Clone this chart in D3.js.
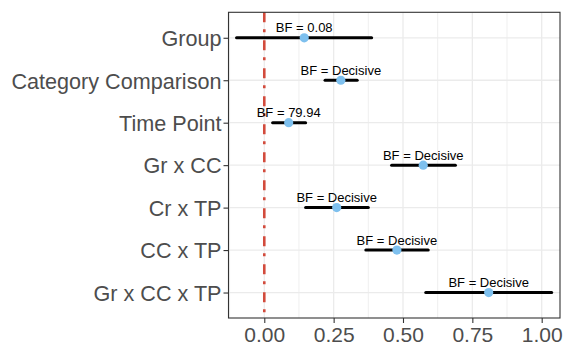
<!DOCTYPE html>
<html><head>
<meta charset="UTF-8">
<script src="https://cdn.jsdelivr.net/npm/d3@7"></script>
<style>
  body { margin: 0; background: #fff; }
  text { font-family: "Liberation Sans", Arial, Helvetica, sans-serif; }
</style>
</head>
<body>
<svg id="chart" width="564" height="345"></svg>
<script>
// effects, top to bottom
const terms = ["Group", "Category Comparison", "Time Point", "Gr x CC", "Cr x TP", "CC x TP", "Gr x CC x TP"];
const estimate = [0.144, 0.276, 0.088, 0.573, 0.261, 0.478, 0.809];
const lower = [-0.100, 0.219, 0.030, 0.459, 0.149, 0.366, 0.582];
const upper = [0.387, 0.335, 0.149, 0.689, 0.375, 0.591, 1.036];
const bfLabels = ["BF = 0.08", "BF = Decisive", "BF = 79.94", "BF = Decisive", "BF = Decisive", "BF = Decisive", "BF = Decisive"];
const xTicks = [0, 0.25, 0.5, 0.75, 1];
const xMinor = [-0.125, 0.125, 0.375, 0.625, 0.875];

const panel = {left: 228.5, right: 560, top: 12.3, bottom: 318};
const svg = d3.select("#chart");

const x = d3.scaleLinear().domain([-0.129, 1.066]).range([panel.left, panel.right]);
const y = d3.scalePoint().domain(terms).range([panel.top, panel.bottom]).padding(0.6);

const grid = svg.append("g");
grid.selectAll("line.minor").data(xMinor).enter().append("line")
  .attr("x1", d => x(d)).attr("x2", d => x(d))
  .attr("y1", panel.top).attr("y2", panel.bottom)
  .attr("stroke", "#ebebeb").attr("stroke-width", 0.8);
grid.selectAll("line.majx").data(xTicks).enter().append("line")
  .attr("x1", d => x(d)).attr("x2", d => x(d))
  .attr("y1", panel.top).attr("y2", panel.bottom)
  .attr("stroke", "#ebebeb").attr("stroke-width", 1.3);
grid.selectAll("line.majy").data(terms).enter().append("line")
  .attr("x1", panel.left).attr("x2", panel.right)
  .attr("y1", d => y(d)).attr("y2", d => y(d))
  .attr("stroke", "#ebebeb").attr("stroke-width", 1.3);

// reference line at zero
svg.append("line")
  .attr("x1", x(0)).attr("x2", x(0))
  .attr("y1", panel.top).attr("y2", panel.bottom)
  .attr("stroke", "#d24b3c").attr("stroke-width", 2.6)
  .attr("stroke-dasharray", "10,7,3,8");

// intervals
svg.selectAll("line.ci").data(terms).enter().append("line")
  .attr("x1", (d, i) => x(lower[i])).attr("x2", (d, i) => x(upper[i]))
  .attr("y1", d => y(d)).attr("y2", d => y(d))
  .attr("stroke", "#000").attr("stroke-width", 3).attr("stroke-linecap", "round");

svg.selectAll("circle").data(terms).enter().append("circle")
  .attr("cx", (d, i) => x(estimate[i])).attr("cy", d => y(d))
  .attr("r", 4.6).attr("fill", "#7ec0ee");

svg.selectAll("text.bf").data(terms).enter().append("text")
  .attr("x", (d, i) => x(estimate[i])).attr("y", d => y(d) - 5.5)
  .attr("text-anchor", "middle").attr("font-size", 13).attr("fill", "#000")
  .text((d, i) => bfLabels[i]);

// panel border
svg.append("rect")
  .attr("x", panel.left).attr("y", panel.top)
  .attr("width", panel.right - panel.left).attr("height", panel.bottom - panel.top)
  .attr("fill", "none").attr("stroke", "#333").attr("stroke-width", 1.1);

// axes
const yAxis = svg.append("g").attr("transform", `translate(${panel.left},0)`)
  .call(d3.axisLeft(y).tickSize(5).tickPadding(2));
const xAxis = svg.append("g").attr("transform", `translate(0,${panel.bottom})`)
  .call(d3.axisBottom(x).tickValues(xTicks).tickFormat(d3.format(".2f")).tickSize(5).tickPadding(3));
[yAxis, xAxis].forEach(a => {
  a.select(".domain").remove();
  a.selectAll(".tick line").attr("stroke", "#333").attr("stroke-width", 1.1);
  a.selectAll(".tick text").attr("fill", "#4d4d4d").attr("font-size", 21)
    .attr("font-family", "'Liberation Sans', Arial, sans-serif");
});
yAxis.selectAll(".tick text").attr("dy", "0.36em").attr("font-size", 21.6);
xAxis.selectAll(".tick text").attr("dy", "0.75em");
</script>
</body>
</html>
